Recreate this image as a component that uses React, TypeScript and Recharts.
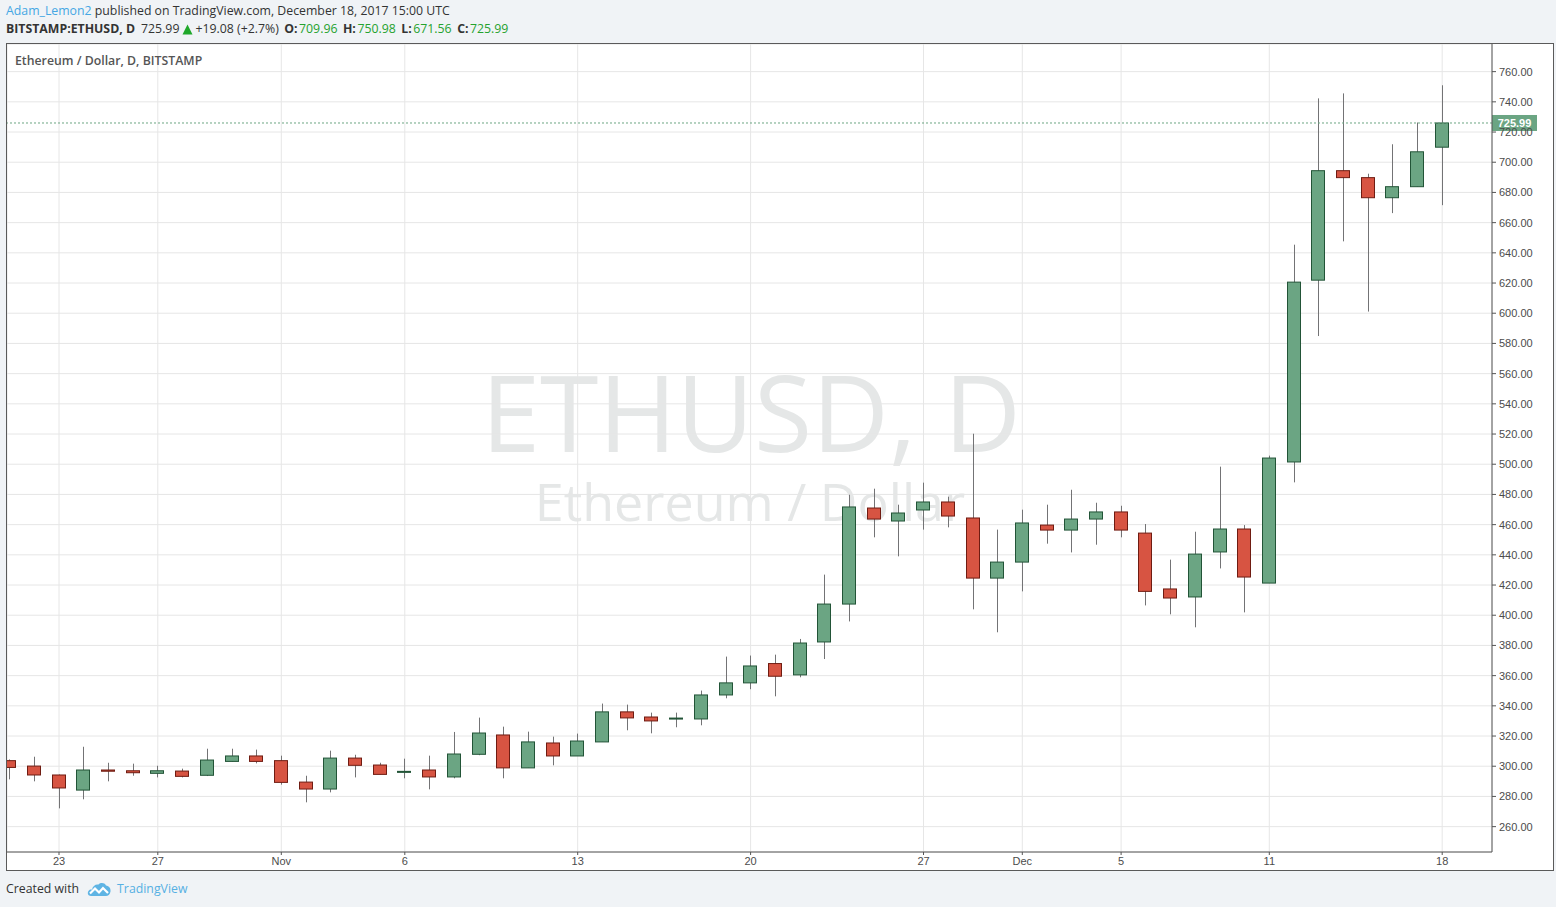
import React from 'react';
import { ComposedChart, Bar, XAxis, YAxis, CartesianGrid, ReferenceLine } from 'recharts';

const dates = [
  'Oct 21', 'Oct 22', 'Oct 23', 'Oct 24', 'Oct 25', 'Oct 26', 'Oct 27', 'Oct 28', 'Oct 29', 'Oct 30', 'Oct 31',
  'Nov 1', 'Nov 2', 'Nov 3', 'Nov 4', 'Nov 5', 'Nov 6', 'Nov 7', 'Nov 8', 'Nov 9', 'Nov 10',
  'Nov 11', 'Nov 12', 'Nov 13', 'Nov 14', 'Nov 15', 'Nov 16', 'Nov 17', 'Nov 18', 'Nov 19', 'Nov 20',
  'Nov 21', 'Nov 22', 'Nov 23', 'Nov 24', 'Nov 25', 'Nov 26', 'Nov 27', 'Nov 28', 'Nov 29', 'Nov 30',
  'Dec 1', 'Dec 2', 'Dec 3', 'Dec 4', 'Dec 5', 'Dec 6', 'Dec 7', 'Dec 8', 'Dec 9', 'Dec 10',
  'Dec 11', 'Dec 12', 'Dec 13', 'Dec 14', 'Dec 15', 'Dec 16', 'Dec 17', 'Dec 18',
];

const opens = [
  303.7, 300.1, 294.2, 284.2, 297.5, 297.0, 295.3, 296.8, 294.0, 303.2, 306.8,
  303.7, 289.5, 284.9, 305.4, 300.8, 296.0, 297.5, 292.9, 307.9, 320.7,
  298.9, 315.4, 306.8, 316.1, 336.0, 332.6, 331.5, 331.3, 347.2, 355.2,
  368.0, 360.5, 382.3, 407.4, 471.0, 462.4, 469.7, 475.0, 464.4, 424.6,
  435.2, 459.7, 456.4, 463.7, 468.4, 454.4, 417.4, 412.1, 441.9, 457.1,
  421.3, 501.5, 621.9, 694.4, 689.8, 676.5, 683.8, 709.96,
];

const highs = [
  304.5, 306.3, 294.5, 312.9, 302.3, 301.7, 300.3, 298.4, 311.6, 311.6, 311.0,
  307.0, 293.7, 310.3, 307.6, 302.3, 305.0, 307.0, 322.7, 332.2, 326.2,
  322.9, 319.6, 321.6, 341.5, 340.8, 335.5, 335.5, 350.1, 372.6, 373.3,
  373.9, 384.3, 426.9, 479.8, 483.8, 473.2, 487.8, 478.5, 520.2, 456.7,
  469.9, 473.2, 483.1, 474.5, 472.5, 460.4, 436.8, 455.3, 498.4, 459.7,
  505.7, 645.4, 742.3, 745.6, 692.4, 711.9, 726.3, 750.98,
];

const lows = [
  291.3, 290.0, 272.1, 278.1, 290.0, 293.7, 292.6, 292.6, 293.5, 303.0, 301.9,
  287.8, 276.1, 282.7, 292.6, 294.6, 292.0, 284.7, 292.0, 307.3, 292.0,
  298.9, 300.6, 306.8, 316.1, 323.8, 321.8, 325.8, 327.1, 345.0, 351.0,
  346.3, 358.9, 371.0, 395.9, 451.6, 439.0, 456.7, 458.2, 403.9, 388.7,
  415.8, 447.4, 441.6, 446.7, 451.6, 406.5, 400.6, 392.0, 431.0, 401.9,
  421.3, 488.0, 584.9, 647.6, 601.1, 666.3, 683.8, 671.56,
];

const closes = [
  299.2, 294.2, 285.6, 297.5, 296.7, 295.7, 297.0, 293.3, 304.1, 306.8, 303.2,
  289.3, 284.9, 305.4, 300.6, 294.6, 296.6, 292.9, 308.1, 322.0, 298.9,
  316.1, 306.8, 316.7, 336.0, 332.0, 330.0, 331.9, 347.2, 355.2, 366.4,
  359.6, 381.6, 407.4, 471.7, 463.7, 467.7, 475.0, 465.7, 424.6, 435.2,
  461.1, 456.4, 463.7, 468.4, 456.4, 415.8, 411.4, 440.5, 457.1, 425.3,
  504.1, 620.6, 694.4, 689.8, 676.5, 683.8, 706.91, 725.99,
];

const xTickDates = ['Oct 23', 'Oct 27', 'Nov 1', 'Nov 6', 'Nov 13', 'Nov 20', 'Nov 27', 'Dec 1', 'Dec 5', 'Dec 11', 'Dec 18'];
const xTickLabels = ['23', '27', 'Nov', '6', '13', '20', '27', 'Dec', '5', '11', '18'];
const yTicks = [260, 280, 300, 320, 340, 360, 380, 400, 420, 440, 460, 480, 500, 520, 540, 560, 580, 600, 620, 640, 660, 680, 700, 720, 740, 760];
const lastClose = 725.99;

const data = dates.map((date, i) => ({
  date,
  open: opens[i],
  high: highs[i],
  low: lows[i],
  close: closes[i],
}));

const GREEN_FILL = '#6ba583';
const GREEN_STROKE = '#225437';
const RED_FILL = '#d75442';
const RED_STROKE = '#6f1c12';
const WICK = '#737375';
const AXIS_TEXT = '#4c4c4c';
const AXIS_LINE = '#555555';
const GRID = '#e6e6e6';

const Candle = (props: any) => {
  const { x, y, width, height, payload } = props;
  if (!payload || x == null || y == null) return null;
  const { open, close, high, low } = payload;
  const top = Math.min(y, y + height);
  const h = Math.abs(height);
  const span = high - low || 1;
  const py = (p: number) => top + ((high - p) / span) * h;
  const up = close >= open;
  const cx = Math.round(x + width / 2) + 0.5;
  const bodyTop = py(Math.max(open, close));
  const bodyBot = py(Math.min(open, close));
  const bx = Math.round(x) + 0.5;
  const bh = Math.max(bodyBot - bodyTop, 1);
  return (
    <g>
      <line x1={cx} x2={cx} y1={top} y2={top + h} stroke={WICK} strokeWidth={1} />
      <rect
        x={bx}
        y={bodyTop}
        width={width - 1}
        height={bh}
        fill={up ? GREEN_FILL : RED_FILL}
        stroke={up ? GREEN_STROKE : RED_STROKE}
        strokeWidth={1}
      />
    </g>
  );
};

const PriceLabel = (props: any) => {
  const vb = props.viewBox || {};
  const x = (vb.x || 0) + (vb.width || 0);
  const y = vb.y || 0;
  return (
    <g>
      <rect x={x} y={y - 8} width={45} height={16} fill={GREEN_FILL} />
      <text
        x={x + 22.5}
        y={y}
        dy="0.36em"
        textAnchor="middle"
        fill="#ffffff"
        fontSize={11}
        fontWeight="bold"
        fontFamily='"Liberation Sans", Arial, sans-serif'
      >
        {lastClose.toFixed(2)}
      </text>
    </g>
  );
};

const Logo = () => (
  <svg width={24} height={16} viewBox="0 0 24 16" style={{ display: 'block' }}>
    <path d="M4 15 C1 15 0 12 1.5 10 C2.5 8.5 4 8.5 5 8.7 C5.5 5 8.5 3 11.5 3.5 C13.5 1.5 17.5 1.5 19 4.5 C22 4.8 24 7.5 23.5 10.5 C23 13.5 21 15 19 15 Z" fill="#5fb4e4" />
    <path d="M3 12.5 L8 7.5 L12 11.5 L16 7 L21 12" fill="none" stroke="#ffffff" strokeWidth={2.2} strokeLinejoin="miter" />
  </svg>
);

const green = '#25a22e';
const lbl = { fontWeight: 'bold' as const, marginLeft: 5.5, marginRight: 1.5 };

export default function App() {
  return (
    <div
      style={{
        position: 'absolute',
        left: 0,
        top: 0,
        width: 1556,
        height: 907,
        background: '#f0f3f6',
        fontFamily: '"Open Sans", "Noto Sans", sans-serif',
        overflow: 'hidden',
      }}
    >
      <div style={{ position: 'absolute', left: 6, top: 3, fontSize: 12.3, lineHeight: '16px', color: '#333', whiteSpace: 'nowrap' }}>
        <span style={{ color: '#45a7e4' }}>Adam_Lemon2</span> published on TradingView.com, December 18, 2017 15:00 UTC
      </div>
      <div style={{ position: 'absolute', left: 6, top: 21, fontSize: 12.3, lineHeight: '16px', color: '#333', whiteSpace: 'nowrap', display: 'flex', alignItems: 'center' }}>
        <span style={{ fontWeight: 'bold' }}>BITSTAMP:ETHUSD, D</span>
        <span style={{ marginLeft: 6 }}>725.99</span>
        <svg width={11} height={11} viewBox="0 0 11 11" style={{ marginLeft: 3, marginRight: 2 }}>
          <path d="M5.5 0.5 L10.5 10.5 L0.5 10.5 Z" fill="#1fa82a" />
        </svg>
        <span>+19.08 (+2.7%)</span>
        <span style={lbl}>O:</span>
        <span style={{ color: green }}>709.96</span>
        <span style={lbl}>H:</span>
        <span style={{ color: green }}>750.98</span>
        <span style={lbl}>L:</span>
        <span style={{ color: green }}>671.56</span>
        <span style={lbl}>C:</span>
        <span style={{ color: green }}>725.99</span>
      </div>

      <div
        style={{
          position: 'absolute',
          left: 6,
          top: 43,
          width: 1546,
          height: 826,
          border: '1px solid #5a5a5a',
          background: '#ffffff',
        }}
      >
        <svg width={1546} height={826} style={{ position: 'absolute', left: 0, top: 0 }}>
          <text x={744} y={408} textAnchor="middle" fontSize={106} fill="#e5e7e7" fontFamily='"Open Sans", sans-serif'>
            ETHUSD, D
          </text>
          <text x={743} y={477} textAnchor="middle" fontSize={52} fill="#e5e7e7" fontFamily='"Open Sans", sans-serif'>
            Ethereum / Dollar
          </text>
        </svg>
        <div style={{ position: 'absolute', left: 0, top: 0 }}>
          <ComposedChart width={1546} height={826} data={data} margin={{ top: 0, right: 0, bottom: 0, left: 0 }} barSize={14}>
            <CartesianGrid stroke={GRID} strokeWidth={1} />
            <XAxis
              dataKey="date"
              ticks={xTickDates}
              interval={0}
              tickFormatter={(v: string) => xTickLabels[xTickDates.indexOf(v)] ?? ''}
              padding={{ left: -9.75, right: 37.45 }}
              allowDataOverflow
              height={18}
              tickSize={3}
              tickMargin={2}
              axisLine={{ stroke: AXIS_LINE }}
              tickLine={{ stroke: AXIS_LINE }}
              tick={{ fontSize: 11, fill: AXIS_TEXT, fontFamily: '"Liberation Sans", Arial, sans-serif' }}
            />
            <YAxis
              orientation="right"
              type="number"
              domain={[243.2, 778.3]}
              allowDataOverflow
              ticks={yTicks}
              interval={0}
              width={61}
              tickSize={4}
              tickMargin={3}
              tickFormatter={(v: number) => v.toFixed(2)}
              axisLine={{ stroke: AXIS_LINE }}
              tickLine={{ stroke: AXIS_LINE }}
              tick={{ fontSize: 11, fill: AXIS_TEXT, fontFamily: '"Liberation Sans", Arial, sans-serif' }}
            />
            <Bar
              dataKey={(d: any) => [d.low, d.high]}
              shape={(p: any) => <Candle {...p} />}
              isAnimationActive={false}
            />
            <ReferenceLine
              y={lastClose}
              stroke={GREEN_FILL}
              strokeDasharray="2 2"
              label={(p: any) => <PriceLabel {...p} />}
            />
          </ComposedChart>
        </div>
        <div style={{ position: 'absolute', left: 8, top: 8, fontSize: 12.3, fontWeight: 600, color: '#555' }}>
          Ethereum / Dollar, D, BITSTAMP
        </div>
      </div>

      <div style={{ position: 'absolute', left: 6, top: 881, fontSize: 12.3, lineHeight: '16px', color: '#333', display: 'flex', alignItems: 'center', whiteSpace: 'nowrap' }}>
        <span>Created with</span>
        <span style={{ marginLeft: 8 }}><Logo /></span>
        <span style={{ marginLeft: 6, color: '#56b0e3' }}>TradingView</span>
      </div>
    </div>
  );
}
